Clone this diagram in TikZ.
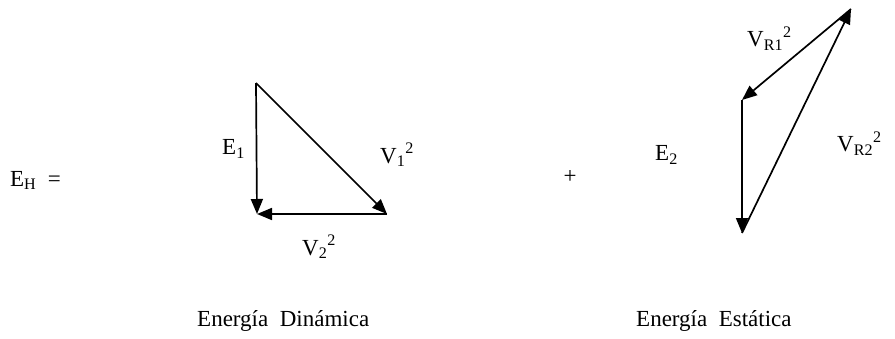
\documentclass[tikz,border=0pt]{standalone}
\usepackage{fontspec}
\setmainfont{Liberation Serif}
\usepackage{tikz}
\usetikzlibrary{arrows.meta}

\begin{document}
\begin{tikzpicture}[
        x=1pt, y=1pt,
        txt/.style={anchor=base west, inner sep=0pt, font=\fontsize{23}{27}\selectfont},
        vec/.style={-{Triangle[length=15pt, width=12pt]}, line width=1.7pt, draw=black}
    ]
    \useasboundingbox (0,0) rectangle (895,338);

    % Ecuacion
    \node[txt] (eh) at (10, 152) {E\textsubscript{H}\ \ =};
    \node[txt, anchor=center] (plus) at (570, 161) {+};

    % Triangulo dinamico
    \coordinate (A) at (256, 255);
    \coordinate (B) at (257, 124);
    \coordinate (C) at (387, 124);
    \node[txt] (e1) at (222, 183) {E\textsubscript{1}};
    \node[txt] (v1) at (380, 175) {V\textsubscript{1}\textsuperscript{2}};
    \node[txt] (v2) at (302, 83) {V\textsubscript{2}\textsuperscript{2}};
    \draw[vec] (A) -- (B);
    \draw[vec] (A) -- (C);
    \draw[vec] (C) -- (B);

    % Triangulo estatico
    \coordinate (D) at (851, 329);
    \coordinate (F) at (742, 238);
    \coordinate (G) at (742, 105);
    \node[txt] (e2) at (655, 177) {E\textsubscript{2}};
    \node[txt] (vr1) at (747, 291) {V\textsubscript{R1}\textsuperscript{2}};
    \node[txt] (vr2) at (837, 186) {V\textsubscript{R2}\textsuperscript{2}};
    \draw[vec] (D) -- (F);
    \draw[vec] (F) -- (G);
    \draw[vec] (G) -- (D);

    % Rotulos
    \node[txt] (din) at (197, 12) {Energía\ \ Dinámica};
    \node[txt] (est) at (636, 12) {Energía\ \ Estática};
\end{tikzpicture}
\end{document}
